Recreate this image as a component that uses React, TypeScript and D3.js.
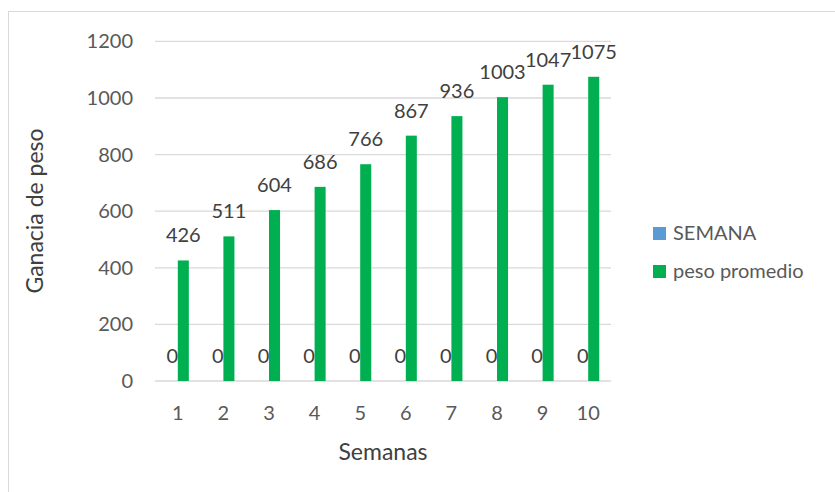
import React from "react";
import * as d3 from "d3";

const categories = ["1", "2", "3", "4", "5", "6", "7", "8", "9", "10"];
const semana = [0, 0, 0, 0, 0, 0, 0, 0, 0, 0];
const pesoPromedio = [426, 511, 604, 686, 766, 867, 936, 1003, 1047, 1075];
const yTicks = [0, 200, 400, 600, 800, 1000, 1200];
const seriesNames = ["SEMANA", "peso promedio"];
const seriesColors = ["#5b9bd5", "#00b050"];

export default function App() {
  const W = 835, H = 492;
  const left = 155, right = 611, top = 41.4, bottom = 381;
  const x = d3.scaleBand<string>().domain(categories).range([left, right]).paddingInner(0).paddingOuter(0);
  const y = d3.scaleLinear().domain([0, 1200]).range([bottom, top]);
  const bw = x.bandwidth();
  const barW = bw * 0.242;
  const font = "Lato, 'Open Sans', sans-serif";
  const series = [semana, pesoPromedio];

  return (
    <svg width={W} height={H} style={{ position: "absolute", left: 0, top: 0 }}>
      <rect x={0} y={0} width={W} height={H} fill="#fff" />
      <rect x={8.5} y={11.5} width={900} height={600} fill="#fff" stroke="#d9d9d9" />
      {yTicks.map((t) => (
        <g key={t}>
          <line x1={left} x2={right} y1={y(t)} y2={y(t)} stroke="#d9d9d9" strokeWidth={1.3} />
          <text x={133} y={y(t)} dy="0.35em" textAnchor="end" fontFamily={font} fontSize={20} fill="#595959">
            {t}
          </text>
        </g>
      ))}
      {categories.map((c, i) => {
        const cx = (x(c) as number) + bw / 2;
        return (
          <g key={c}>
            {series.map((s, k) => {
              const bx = cx - barW + k * barW;
              const v = s[i];
              return (
                <g key={k}>
                  <rect x={bx} y={y(v)} width={barW} height={y(0) - y(v)} fill={seriesColors[k]} />
                  <text x={bx + barW / 2} y={y(v) - 18} textAnchor="middle" fontFamily={font} fontSize={20} fill="#404040">
                    {v}
                  </text>
                </g>
              );
            })}
            <text x={cx} y={420} textAnchor="middle" fontFamily={font} fontSize={20} fill="#595959">
              {c}
            </text>
          </g>
        );
      })}
      <text x={(left + right) / 2} y={460} textAnchor="middle" fontFamily={font} fontSize={23} fill="#404040">
        Semanas
      </text>
      <text transform={`translate(43, 211) rotate(-90)`} textAnchor="middle" fontFamily={font} fontSize={23} fill="#404040">
        Ganacia de peso
      </text>
      {seriesNames.map((n, k) => (
        <g key={n}>
          <rect x={653} y={227 + k * 38} width={13} height={13} fill={seriesColors[k]} />
          <text x={673} y={240 + k * 38} fontFamily={font} fontSize={20} fill="#595959">
            {n}
          </text>
        </g>
      ))}
    </svg>
  );
}
